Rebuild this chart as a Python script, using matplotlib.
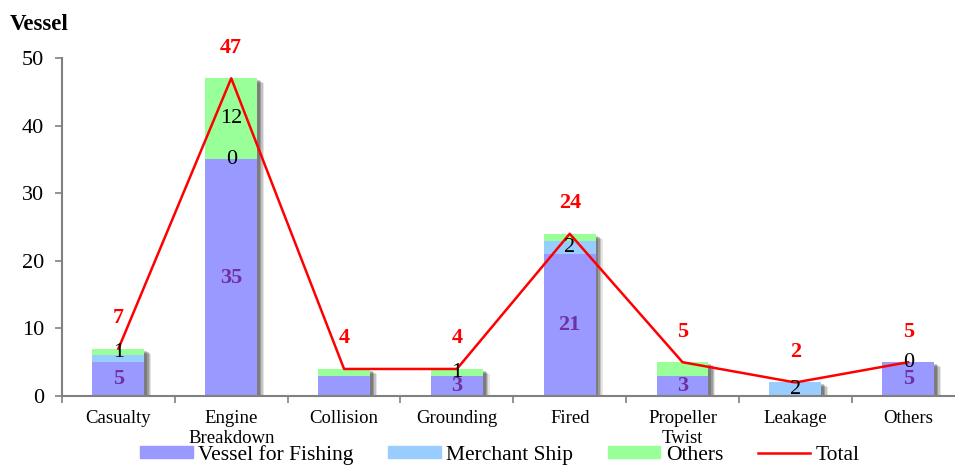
import numpy as np
import matplotlib.pyplot as plt
import matplotlib.patheffects as pe
from matplotlib.lines import Line2D
from matplotlib.patches import Patch

# ── Data ──────────────────────────────────────────────────────────────────────
categories = ["Casualty", "Engine\nBreakdown", "Collision", "Grounding",
              "Fired", "Propeller\nTwist", "Leakage", "Others"]
fishing  = [5, 35, 3, 3, 21, 3, 0, 5]
merchant = [1, 0, 0, 0, 2, 0, 2, 0]
others   = [1, 12, 1, 1, 1, 2, 0, 0]
total    = [7, 47, 4, 4, 24, 5, 2, 5]

# labels that are actually shown on the chart (None = hidden)
fishing_lbl  = [5, 35, None, 3, 21, 3, None, 5]
merchant_lbl = [None, 0, None, None, 2, None, 2, 0]
others_lbl   = [1, 12, None, 1, None, None, None, None]

C_FISH  = "#9999FF"
C_MERCH = "#99CCFF"
C_OTH   = "#99FF99"
C_TOTAL = "#FF0000"
GREY    = "#808080"

plt.rcParams["font.family"] = ["Liberation Serif", "DejaVu Serif"]

fig = plt.figure(figsize=(9.55, 4.66), dpi=100)
ax = fig.add_axes([62 / 955, 70 / 466, 902.6 / 955, 338 / 466])

x = np.arange(len(categories))
fishing = np.array(fishing)
merchant = np.array(merchant)
others = np.array(others)
width = 0.46

# soft shadow behind the whole stack
shadow = ax.bar(x, total, width=width, color="none", zorder=1)
for b in shadow:
    b.set_path_effects([pe.SimplePatchShadow(offset=(o, -o * 0.7), shadow_rgbFace="black",
                                             alpha=a)
                        for o, a in [(5, 0.10), (4, 0.15), (3, 0.2), (2, 0.2)]])

ax.bar(x, fishing, width=width, color=C_FISH, zorder=2)
ax.bar(x, merchant, width=width, bottom=fishing, color=C_MERCH, zorder=2)
ax.bar(x, others, width=width, bottom=fishing + merchant, color=C_OTH, zorder=2)
ax.plot(x, total, color=C_TOTAL, lw=1.8, zorder=3)

# segment labels
for i in x:
    if fishing_lbl[i] is not None:
        ax.text(i, fishing[i] / 2, str(fishing_lbl[i]), ha="center", va="center",
                color="#7030A0", fontsize=16, fontweight="bold", zorder=4)
    if merchant_lbl[i] is not None:
        ax.text(i, fishing[i] + merchant[i] / 2, str(merchant_lbl[i]), ha="center",
                va="center", color="black", fontsize=16, zorder=4)
    if others_lbl[i] is not None:
        ax.text(i, fishing[i] + merchant[i] + others[i] / 2, str(others_lbl[i]),
                ha="center", va="center", color="black", fontsize=16, zorder=4)
    ax.annotate(str(total[i]), (i, total[i]), xytext=(0, 22),
                textcoords="offset points", ha="center", va="center",
                color=C_TOTAL, fontsize=16, fontweight="bold", zorder=4)

# axes styling
ax.set_xlim(-0.5, 7.5)
ax.set_ylim(0, 50)
ax.set_yticks(range(0, 51, 10))
ax.set_xticks(x)
ax.set_xticklabels(categories, fontsize=13.5, linespacing=1.22, va="top")
ax.set_xticks(np.arange(-0.5, 8, 1), minor=True)
ax.tick_params(axis="x", which="major", length=0, pad=10)
ax.tick_params(axis="x", which="minor", length=5, color=GREY, width=1.2)
ax.tick_params(axis="y", length=5, color=GREY, width=1.2, labelsize=16, pad=8)
for s in ["top", "right"]:
    ax.spines[s].set_visible(False)
for s in ["left", "bottom"]:
    ax.spines[s].set_color(GREY)
    ax.spines[s].set_linewidth(1.5)

fig.text(10 / 955, 1 - 24 / 466, "Vessel", fontsize=16.5, fontweight="bold",
         va="center", ha="left")

handles = [Patch(color=C_FISH), Patch(color=C_MERCH), Patch(color=C_OTH),
           Line2D([0], [0], color=C_TOTAL, lw=1.8)]
labels = ["Vessel for Fishing", "Merchant Ship", "Others", "Total"]
fig.legend(handles, labels, loc="center", bbox_to_anchor=(500 / 955, 1 - 455 / 466),
           ncol=4, frameon=False, fontsize=15.5, handlelength=2.45, handleheight=0.45,
           handletextpad=0.25, columnspacing=1.6, borderpad=0)

fig.savefig("out.png", dpi=100)
